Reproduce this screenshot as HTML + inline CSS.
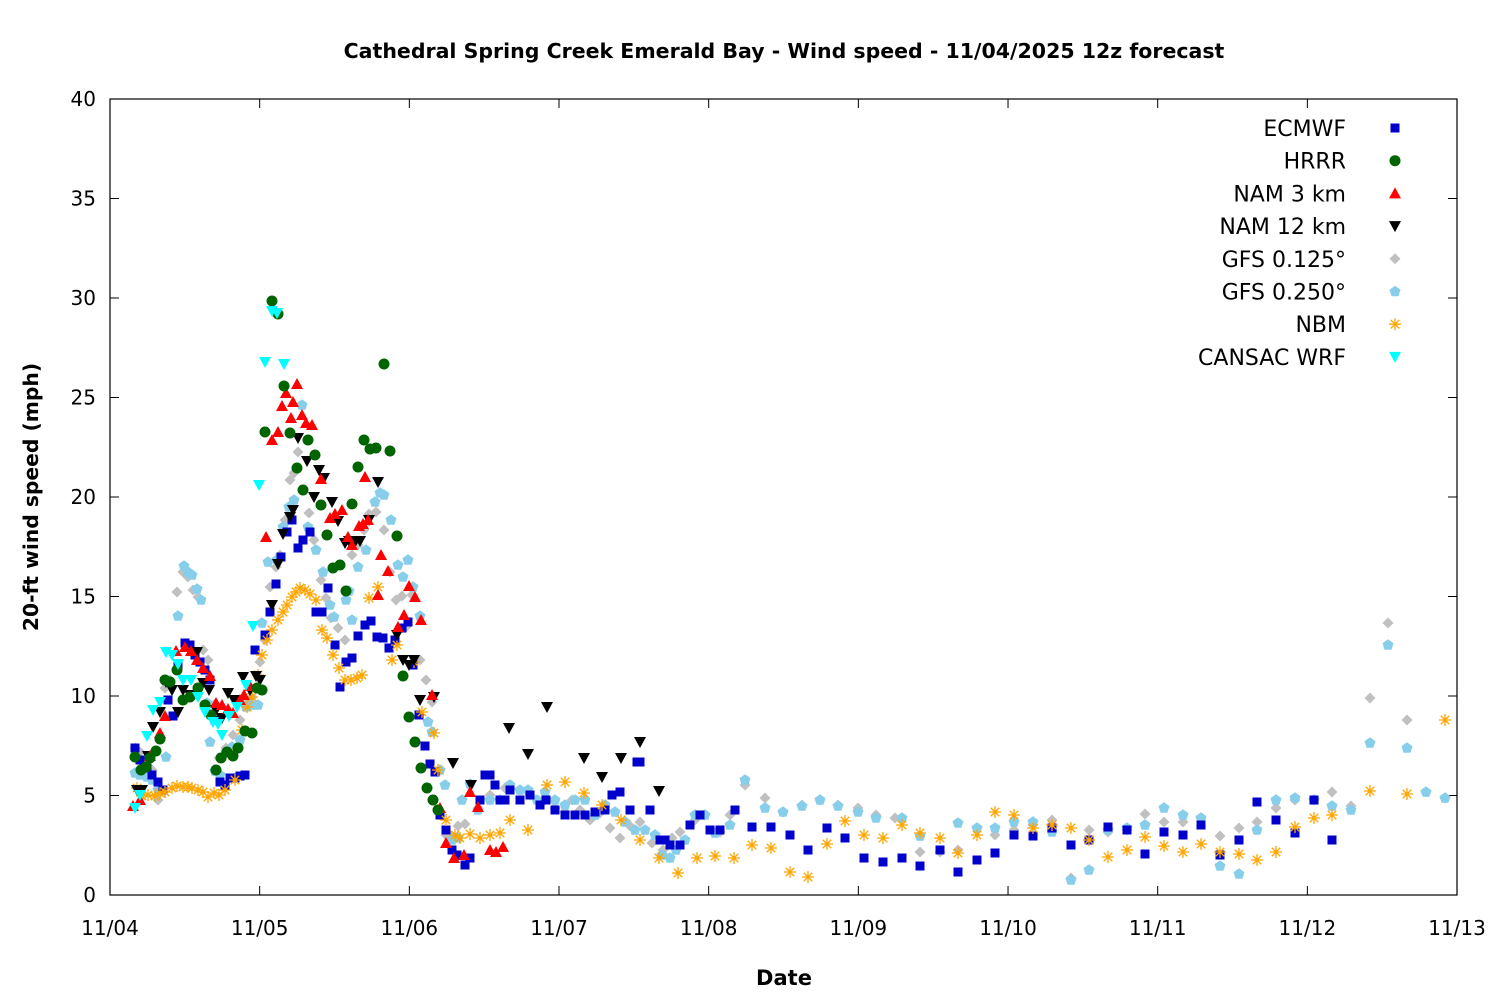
<!DOCTYPE html>
<html><head><meta charset="utf-8"><style>
html,body{margin:0;padding:0;background:#fff;}
svg{display:block;font-family:"DejaVu Sans","Liberation Sans",sans-serif;}
</style></head><body>
<svg id="s" width="1500" height="1000" xmlns="http://www.w3.org/2000/svg">
<rect width="1500" height="1000" fill="#fff"/>
<text x="784" y="58" text-anchor="middle" font-size="20.5" font-weight="bold">Cathedral Spring Creek Emerald Bay - Wind speed - 11/04/2025 12z forecast</text>
<text transform="translate(38,497) rotate(-90)" text-anchor="middle" font-size="20.3" font-weight="bold">20-ft wind speed (mph)</text>
<text x="784" y="985" text-anchor="middle" font-size="21" font-weight="bold">Date</text>
<g id="ax"></g>
<g id="pts"></g>
<rect x="110" y="99" width="1347" height="796" fill="none" stroke="#000" stroke-width="1.2"/>
<g id="leg" font-size="22" text-anchor="end"></g>
</svg>
<script>
var NS="http://www.w3.org/2000/svg";
function el(t,a,p){var e=document.createElementNS(NS,t);for(var k in a)e.setAttribute(k,a[k]);(p||document.getElementById('pts')).appendChild(e);return e;}
var ax=document.getElementById('ax');
for(var v=0;v<=40;v+=5){var y=895-v*19.9;
el('line',{x1:110,y1:y,x2:119,y2:y,stroke:'#000'},ax);el('line',{x1:1448,y1:y,x2:1457,y2:y,stroke:'#000'},ax);
var t=el('text',{x:96,y:y+7,'text-anchor':'end','font-size':20},ax);t.textContent=v;}
var days=['11/04','11/05','11/06','11/07','11/08','11/09','11/10','11/11','11/12','11/13'];
for(var i=0;i<10;i++){var x=110+i*149.67;
el('line',{x1:x,y1:895,x2:x,y2:886,stroke:'#000'},ax);el('line',{x1:x,y1:99,x2:x,y2:108,stroke:'#000'},ax);
var t=el('text',{x:x,y:935,'text-anchor':'middle','font-size':20},ax);t.textContent=days[i];}
function mk(type,x,y,g){
 g=g||document.getElementById('pts');
 if(type=='sq')el('rect',{x:x-4.5,y:y-4.5,width:9,height:9,fill:'#0000cc'},g);
 else if(type=='ci')el('circle',{cx:x,cy:y,r:5.5,fill:'#006400'},g);
 else if(type=='up')el('polygon',{points:(x-6)+','+(y+5)+' '+(x+6)+','+(y+5)+' '+x+','+(y-6),fill:'#ff0000'},g);
 else if(type=='dn')el('polygon',{points:(x-6)+','+(y-5)+' '+(x+6)+','+(y-5)+' '+x+','+(y+6),fill:'#000'},g);
 else if(type=='cy')el('polygon',{points:(x-6)+','+(y-5)+' '+(x+6)+','+(y-5)+' '+x+','+(y+6),fill:'#00ffff'},g);
 else if(type=='di')el('polygon',{points:(x-5.5)+','+y+' '+x+','+(y-5.5)+' '+(x+5.5)+','+y+' '+x+','+(y+5.5),fill:'#c0c0c0'},g);
 else if(type=='pe'){var p=[];for(var k=0;k<5;k++){var a=-Math.PI/2+k*2*Math.PI/5;p.push((x+5.8*Math.cos(a))+','+(y+5.8*Math.sin(a)));}el('polygon',{points:p.join(' '),fill:'#87ceeb'},g);}
 else if(type=='as'){var d='';for(var k=0;k<4;k++){var a=k*Math.PI/4;d+='M'+(x-6*Math.cos(a))+' '+(y-6*Math.sin(a))+'L'+(x+6*Math.cos(a))+' '+(y+6*Math.sin(a));}el('path',{d:d,stroke:'#ffa500','stroke-width':1.3,fill:'none'},g);}
}
function P(type,s){var a=s.trim().split(/\s+/);for(var i=0;i<a.length;i++){var q=a[i].split(',');mk(type,+q[0],+q[1]);}}
P('di',"135,748 140,752 147,760 152,770 158,800 165,688 170,680 177,592 183,572 188,577 193,590 198,597 203,650 208,660 214,705 219,758 226,748 233,735 240,720 246,700 252,697 260,662 265,640 270,587 276,567 280,555 285,520 290,480 294,473 298,452 303,490 309,513 314,540 321,580 326,598 331,618 338,628 345,640 352,555 358,545 364,530 369,514 376,512 384,530 390,572 396,600 402,596 406,627 412,595 420,660 426,680 432,702 440,770 446,835 452,836 458,826 465,824 478,808 490,795 505,788 520,790 530,795 545,800 555,808 565,812 572,800 580,810 590,820 600,813 610,828 620,838 630,826 640,822 652,843 663,850 672,838 680,832 695,820 705,815 720,832 730,815 745,785 765,798 783,812 802,805 820,800 838,805 858,808 876,815 895,818 920,852 940,852 958,850 977,828 995,835 1014,830 1033,825 1052,820 1071,878 1089,830 1108,832 1127,830 1145,814 1164,822 1183,822 1201,818 1220,836 1239,828 1257,822 1276,808 1295,800 1314,800 1332,792 1351,806 1370,698 1388,623 1407,720 1426,792 1445,798");
P('pe',"135,773 140,775 147,777 152,780 158,790 166,757 178,616 184,566 188,572 192,575 197,589 201,600 207,703 210,742 215,771 220,775 226,752 232,747 240,740 246,707 252,705 258,705 262,623 268,562 277,560 283,527 289,507 294,500 302,405 308,527 316,550 323,572 330,605 334,617 346,600 349,591 352,620 358,567 366,550 375,502 380,493 384,495 391,520 398,565 403,577 408,560 413,587 420,616 428,722 432,732 440,770 445,785 452,840 458,838 462,800 470,784 478,810 490,800 500,800 510,785 520,790 528,790 537,800 545,792 555,800 565,805 575,800 585,800 595,815 605,805 615,812 625,822 635,830 645,830 655,835 662,855 670,858 676,850 685,840 695,815 705,815 715,833 730,825 745,780 765,808 783,812 802,806 820,800 838,806 858,812 876,818 902,818 920,836 958,823 977,828 995,828 1014,822 1033,822 1052,832 1071,880 1089,870 1108,830 1127,828 1145,825 1164,808 1183,815 1201,818 1220,866 1239,874 1257,830 1276,800 1295,798 1314,800 1332,806 1351,810 1370,743 1388,645 1407,748 1426,792 1445,798");
P('sq',"135,748 140,760 147,768 152,775 158,782 163,790 168,700 173,716 178,665 185,643 190,645 195,655 200,662 205,670 210,680 215,720 220,782 225,785 230,778 235,778 240,776 245,775 255,650 265,635 270,612 276,584 281,557 287,532 292,520 298,548 303,540 310,532 316,612 322,612 328,588 335,645 340,687 346,662 352,658 358,636 365,625 371,621 377,637 383,638 389,648 395,640 402,628 408,622 413,665 419,715 425,746 430,764 435,772 440,815 446,830 452,850 457,855 465,865 470,858 480,800 485,775 490,775 495,785 500,800 505,800 510,790 520,800 530,795 540,805 546,800 555,810 565,815 575,815 585,815 595,812 605,810 612,795 620,792 630,810 637,762 640,762 650,810 660,840 665,840 670,845 680,845 690,825 700,815 710,830 720,830 735,810 752,827 771,827 790,835 808,850 827,828 845,838 864,858 883,862 902,858 920,866 940,850 958,872 977,860 995,853 1014,835 1033,836 1052,828 1071,845 1089,840 1108,827 1127,830 1145,854 1164,832 1183,835 1201,825 1220,855 1239,840 1257,802 1276,820 1295,833 1314,800 1332,840");
P('as',"137,788 142,796 148,795 155,796 160,793 165,792 172,788 177,786 183,787 188,787 192,788 198,790 203,792 208,797 214,793 219,795 225,790 232,755 235,780 242,730 247,707 252,697 258,675 262,655 267,640 272,630 278,620 283,612 287,605 292,597 296,592 300,588 305,590 310,594 316,600 322,630 327,638 333,655 339,668 345,680 351,680 357,678 362,675 369,598 378,587 392,660 397,645 414,662 422,712 434,733 438,770 446,820 455,835 460,838 470,834 480,838 490,835 500,833 510,820 528,830 547,785 565,782 584,793 602,805 621,820 640,840 659,858 678,873 697,858 715,856 734,858 752,845 771,848 790,872 808,877 827,844 845,821 864,835 883,838 902,825 920,833 940,838 958,853 977,835 995,812 1014,815 1033,828 1052,825 1071,828 1089,840 1108,857 1127,850 1145,837 1164,846 1183,852 1201,844 1220,852 1239,854 1257,860 1276,852 1295,827 1314,818 1332,815 1370,791 1407,794 1445,720");
P('dn',"137,790 142,790 148,756 153,727 160,712 166,682 172,690 178,712 183,690 190,695 197,652 203,683 209,690 216,710 222,718 228,693 234,700 243,677 250,690 256,676 260,680 272,605 278,564 283,534 290,517 293,510 298,438 307,461 314,497 319,470 324,478 332,502 338,521 345,543 349,541 355,542 360,541 369,520 378,482 397,635 403,660 409,665 414,660 420,700 434,697 453,763 471,785 509,728 528,754 547,707 584,758 602,777 621,758 640,742 659,791");
P('up',"133,806 140,800 150,756 160,733 165,716 176,651 185,647 191,651 197,660 203,668 210,676 216,703 222,705 228,709 233,713 240,700 244,695 250,686 266,537 272,440 278,432 282,406 286,393 291,418 293,402 297,384 302,415 306,423 312,425 321,479 330,518 335,514 342,510 348,537 352,545 359,526 363,524 365,477 368,520 378,595 381,555 388,571 398,627 404,615 409,586 415,597 421,620 432,695 440,808 446,843 454,858 464,855 470,792 478,807 490,850 496,852 503,847");
P('ci',"135,757 141,770 146,767 150,758 156,751 160,739 165,680 170,682 177,670 183,700 190,697 198,688 205,705 211,715 216,770 221,758 227,752 233,756 238,748 245,731 252,733 257,688 262,690 265,432 272,301 278,314 284,386 290,433 297,468 303,490 308,440 315,455 321,505 327,535 333,568 340,565 346,591 352,504 358,467 364,440 370,449 376,448 384,364 390,451 397,536 403,676 409,717 415,742 421,768 427,788 433,800 438,810");
P('cy',"135,808 140,795 147,736 153,710 160,702 166,652 172,655 178,664 183,680 191,680 198,697 205,712 213,722 218,724 222,735 229,716 237,707 246,685 253,626 259,485 265,362 272,311 277,313 284,364");
var L=[['ECMWF','sq'],['HRRR','ci'],['NAM 3 km','up'],['NAM 12 km','dn'],['GFS 0.125°','di'],['GFS 0.250°','pe'],['NBM','as'],['CANSAC WRF','cy']];
var lg=document.getElementById('leg');
for(var i=0;i<L.length;i++){var y=128+i*32.7;var t=el('text',{x:1346,y:y+8},lg);t.textContent=L[i][0];mk(L[i][1],1395,y,lg);}
</script>
</body></html>
